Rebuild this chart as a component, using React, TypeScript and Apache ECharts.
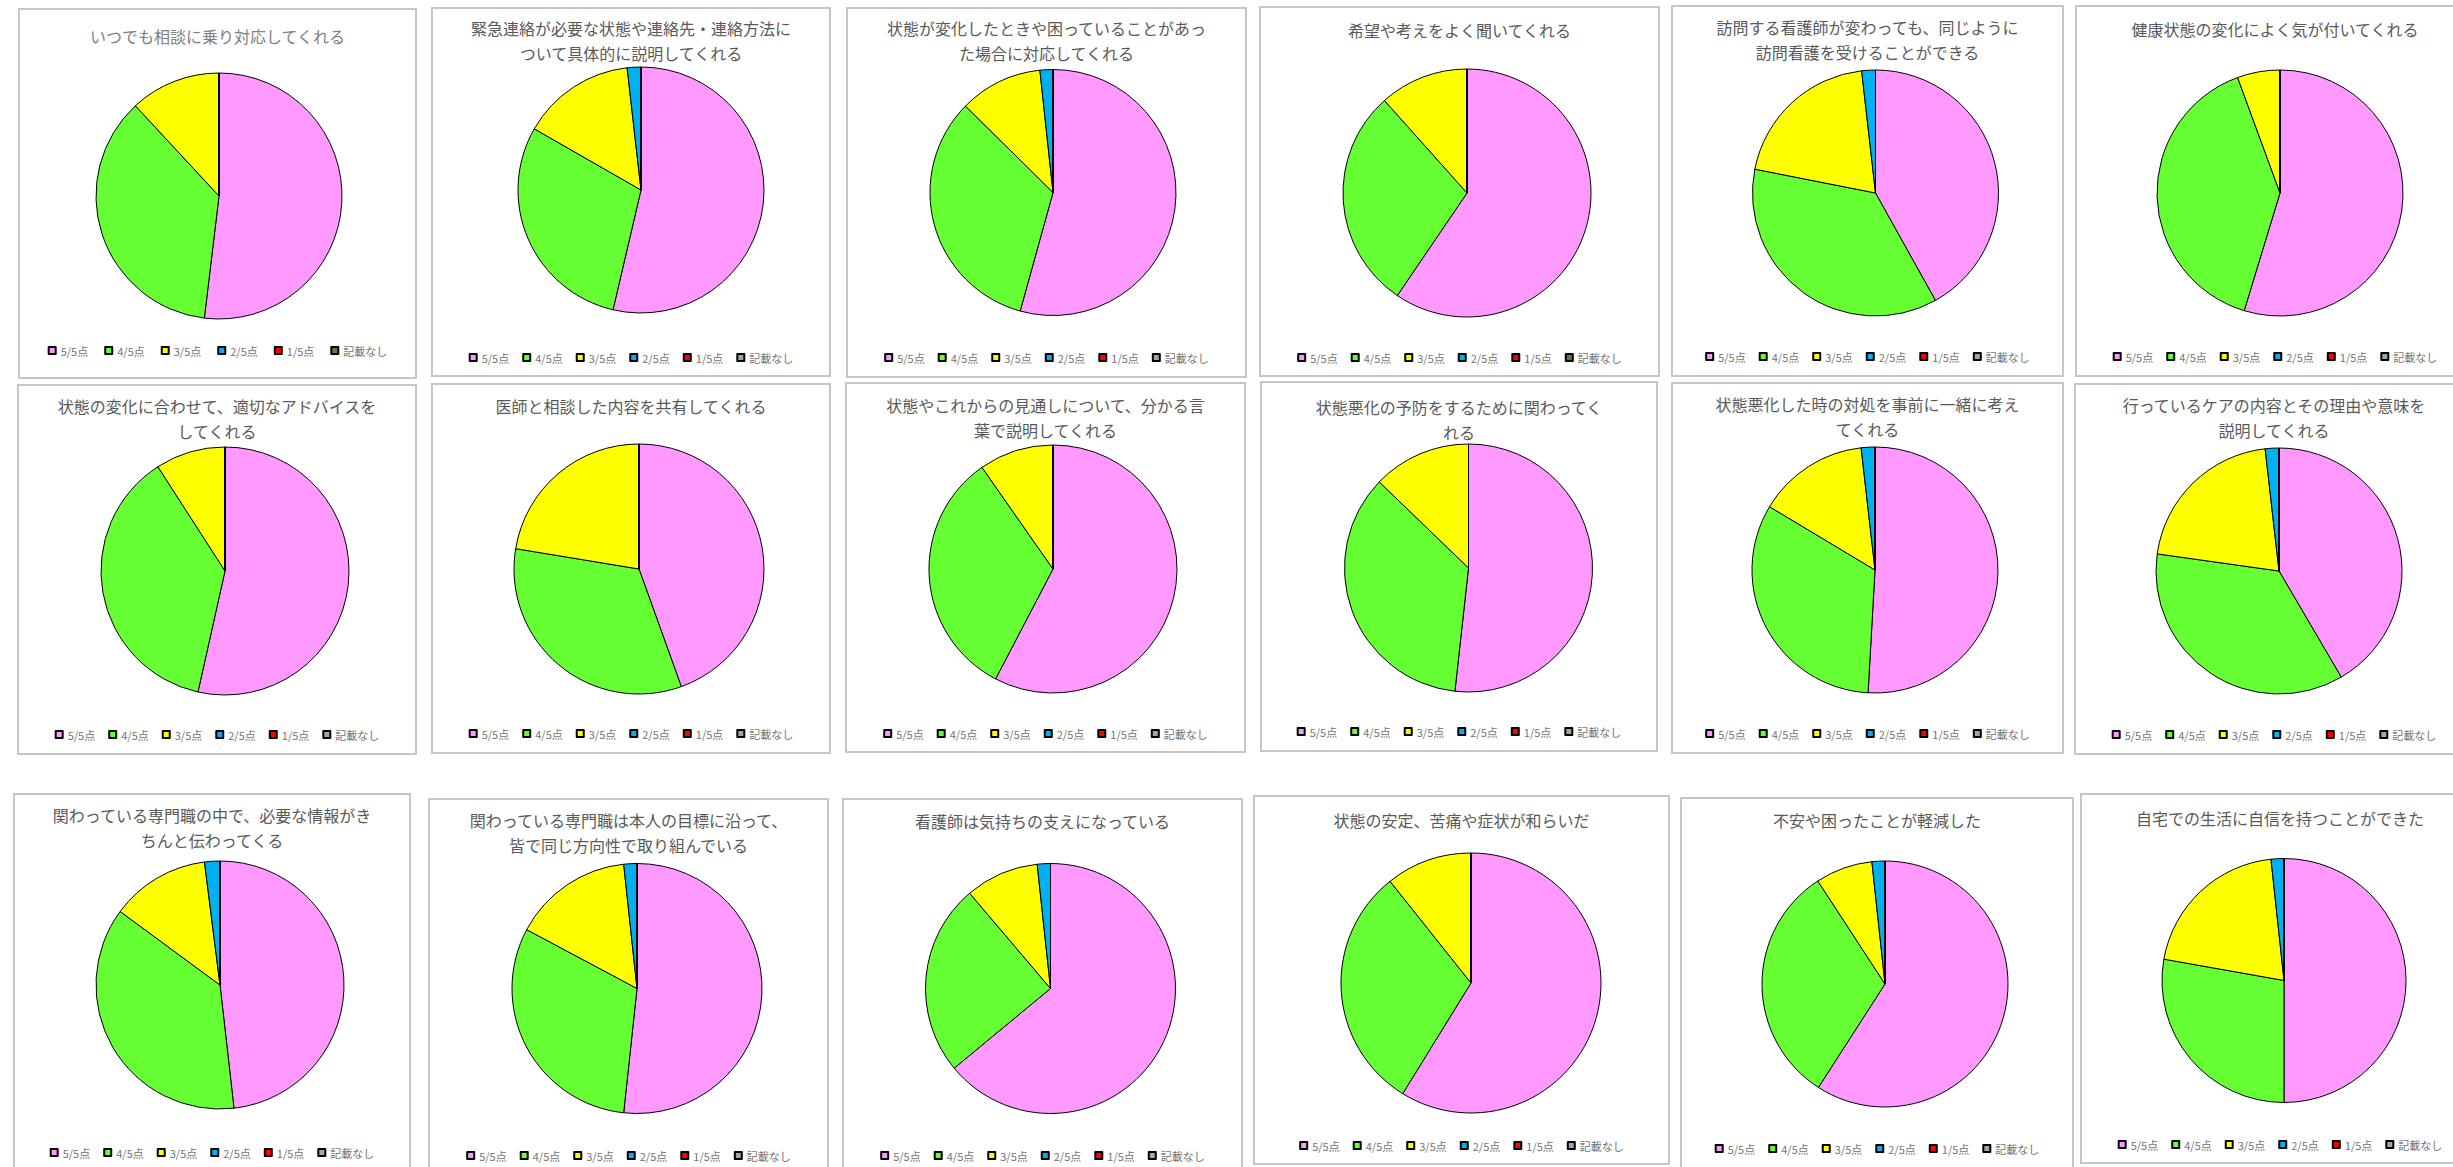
import React, { useEffect, useRef } from "react";
import * as echarts from "echarts";

const CATEGORIES = ["5/5点", "4/5点", "3/5点", "2/5点", "1/5点", "記載なし"];

const TITLES = [
  "いつでも相談に乗り対応してくれる",
  "緊急連絡が必要な状態や連絡先・連絡方法に\nついて具体的に説明してくれる",
  "状態が変化したときや困っていることがあっ\nた場合に対応してくれる",
  "希望や考えをよく聞いてくれる",
  "訪問する看護師が変わっても、同じように\n訪問看護を受けることができる",
  "健康状態の変化によく気が付いてくれる",
  "状態の変化に合わせて、適切なアドバイスを\nしてくれる",
  "医師と相談した内容を共有してくれる",
  "状態やこれからの見通しについて、分かる言\n葉で説明してくれる",
  "状態悪化の予防をするために関わってく\nれる",
  "状態悪化した時の対処を事前に一緒に考え\nてくれる",
  "行っているケアの内容とその理由や意味を\n説明してくれる",
  "関わっている専門職の中で、必要な情報がき\nちんと伝わってくる",
  "関わっている専門職は本人の目標に沿って、\n皆で同じ方向性で取り組んでいる",
  "看護師は気持ちの支えになっている",
  "状態の安定、苦痛や症状が和らいだ",
  "不安や困ったことが軽減した",
  "自宅での生活に自信を持つことができた",
];

// estimated shares (%)
const SCORE5 = [51.9, 53.6, 54.3, 59.5, 41.9, 54.7, 53.5, 44.5, 57.6, 51.8, 50.9, 41.6, 48.2, 51.7, 64.0, 58.8, 59.1, 50.0];
const SCORE4 = [36.2, 29.6, 33.1, 28.9, 36.2, 39.7, 37.4, 33.1, 32.6, 35.5, 32.7, 35.7, 36.9, 31.1, 24.8, 30.5, 31.7, 27.8];
const SCORE3 = [11.9, 14.9, 10.9, 11.6, 20.1, 5.6, 9.1, 22.4, 9.7, 12.8, 14.6, 21.0, 12.9, 15.5, 9.5, 10.7, 7.5, 20.5];
const SCORE2 = [0, 1.8, 1.7, 0, 1.8, 0, 0, 0, 0, 0, 1.8, 1.8, 2.0, 1.7, 1.7, 0, 1.7, 1.7];
const SCORE1 = [0, 0, 0, 0, 0, 0, 0, 0, 0, 0, 0, 0, 0, 0, 0, 0, 0, 0];
const SCORE_NA = [0, 0, 0, 0, 0, 0, 0, 0, 0, 0, 0, 0, 0, 0, 0, 0, 0, 0];

const SLICE_COLORS = ["#FF99FF", "#66FF33", "#FFFF00", "#00B0F0", "#FF0000"];
const NA_COLORS = ["#548235", "#A5A5A5", "#A5A5A5", "#548235", "#A5A5A5", "#A5A5A5", "#A5A5A5", "#A5A5A5", "#A5A5A5", "#A5A5A5", "#A5A5A5", "#A5A5A5", "#A5A5A5", "#A5A5A5", "#A5A5A5", "#A5A5A5", "#A5A5A5", "#A5A5A5"];

// layout: [left, top, width, height, cx, cy, r, titleY, legendY, legendGap]
const LAYOUT: number[][] = [
  [18, 8, 399, 371, 201, 188, 123, 28, 343, 16],
  [431, 7, 400, 370, 210, 183, 123, 21, 351, 13],
  [846, 7, 401, 371, 207, 185.5, 123, 21, 351, 13],
  [1259, 6, 401, 371, 208, 187, 124, 24, 352, 13],
  [1671, 5, 393, 372, 204.5, 188, 123, 22, 352, 13],
  [2075, 5, 400, 372, 205, 188, 123, 24, 352, 13],
  [17, 384, 400, 371, 208, 187, 124, 22, 351, 13],
  [431, 383, 400, 371, 208, 186, 125, 23, 351, 13],
  [845, 382, 401, 371, 208, 187, 124, 23, 352, 13],
  [1260, 381, 398, 371, 208.5, 187, 124, 26, 351, 13],
  [1671, 382, 393, 372, 204, 188, 123, 22, 352, 13],
  [2074, 383, 400, 372, 205, 188, 123, 22, 352, 13],
  [13, 793, 398, 376, 207, 192, 124, 22, 360, 13],
  [428, 798, 401, 376, 209, 190.5, 125, 22, 358, 13],
  [842, 798, 401, 376, 208.5, 190.5, 125, 23, 358, 13],
  [1253, 795, 417, 370, 218, 188, 130, 25, 351, 13],
  [1680, 797, 394, 372, 205, 187, 123, 23, 352, 13],
  [2080, 793, 400, 371, 204, 187.5, 122, 25, 352, 13],
];

const FONT = "'Noto Sans CJK JP', 'Noto Sans', sans-serif";

function PieCard({ idx }: { idx: number }) {
  const ref = useRef<HTMLDivElement>(null);
  const [left, top, width, height, cx, cy, r, titleY, legendY, legendGap] = LAYOUT[idx];

  useEffect(() => {
    if (!ref.current) return;
    const chart = echarts.init(ref.current, undefined, { renderer: "svg" });
    const values = [SCORE5[idx], SCORE4[idx], SCORE3[idx], SCORE2[idx], SCORE1[idx], SCORE_NA[idx]];
    const colors = [...SLICE_COLORS, NA_COLORS[idx]];
    chart.setOption({
      animation: false,
      backgroundColor: "#ffffff",
      title: {
        text: TITLES[idx],
        left: "center",
        top: titleY - 12.5,
        padding: 0,
        textStyle: {
          fontSize: 16,
          fontWeight: "normal",
          color: idx === 0 ? "#808080" : "#595959",
          lineHeight: 25,
          fontFamily: FONT,
        },
      },
      legend: {
        data: CATEGORIES,
        left: "center",
        top: legendY - 6,
        padding: 0,
        icon: "rect",
        itemWidth: 7,
        itemHeight: 7,
        itemGap: legendGap,
        selectedMode: false,
        textStyle: { fontSize: 11, color: "#737373", fontFamily: FONT },
      },
      series: [
        {
          type: "pie",
          center: [cx, cy],
          radius: r,
          startAngle: 90,
          clockwise: true,
          silent: true,
          label: { show: false },
          labelLine: { show: false },
          emphasis: { disabled: true },
          itemStyle: { borderColor: "#000000", borderWidth: 1 },
          data: CATEGORIES.map((name, k) => ({
            name,
            value: values[k],
            itemStyle: { color: colors[k] },
          })),
        },
      ],
    });
    return () => chart.dispose();
  }, [idx]);

  return (
    <div style={{ position: "absolute", left, top, width, height }}>
      <div ref={ref} style={{ width, height }} />
      <div
        style={{
          position: "absolute",
          left: 0,
          top: 0,
          width,
          height,
          boxSizing: "border-box",
          border: "2px solid #c6c6c6",
          pointerEvents: "none",
        }}
      />
    </div>
  );
}

export default function App() {
  useEffect(() => {
    document.body.style.margin = "0";
    document.documentElement.style.overflow = "hidden";
  }, []);
  return (
    <div
      style={{
        position: "fixed",
        left: 0,
        top: 0,
        width: 2453,
        height: 1167,
        overflow: "hidden",
        background: "#ffffff",
      }}
    >
      {TITLES.map((_, i) => (
        <PieCard key={i} idx={i} />
      ))}
    </div>
  );
}
